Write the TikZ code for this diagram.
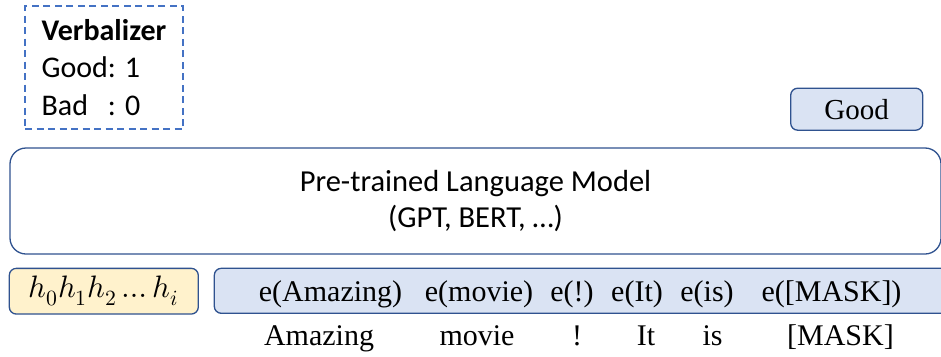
\documentclass[tikz,border=0pt]{standalone}
\usepackage{fontspec}
\usepackage{unicode-math}
\setmainfont{Liberation Serif}
\setmathfont{Latin Modern Math}
\newfontfamily\calibri{Carlito}
\definecolor{edgeblue}{HTML}{2F528F}
\definecolor{dashblue}{HTML}{4472C4}
\definecolor{lightblue}{HTML}{DAE3F3}
\definecolor{lightyellow}{HTML}{FFF2CC}
\begin{document}
\begin{tikzpicture}[x=1pt,y=-1pt,
  box/.style={draw=edgeblue,line width=1.3pt,rounded corners=7pt,inner sep=0pt},
  verbbox/.style={draw=dashblue,line width=2pt,dash pattern=on 7pt off 4.5pt,inner sep=0pt,
    minimum width=158pt,minimum height=123pt,align=left},
  tok/.style={anchor=base,inner sep=0pt,font=\fontsize{30}{36}\selectfont}]
\useasboundingbox (0,0) rectangle (941,356);
\node [verbbox,font=\calibri\fontsize{30}{37.5}\selectfont] (verb) at (104,67.5)
  {\textbf{Verbalizer}\\Good: 1\\\rlap{Bad}\phantom{Good}: 0};
\node [box,fill=lightblue,minimum width=132pt,minimum height=42pt,font=\fontsize{29}{34}\selectfont] (good) at (856.7,109.2) {Good};
\node [box,rounded corners=16pt,minimum width=931pt,minimum height=106pt,align=center,font=\calibri\fontsize{30.5}{36.6}\selectfont] (plm) at (475.5,201) {Pre-trained Language Model\\(GPT, BERT, \dots)};
\node [box,fill=lightyellow,minimum width=189pt,minimum height=45.7pt,font=\fontsize{31}{36}\selectfont] (hid) at (103.8,291.2) {$h_0h_1h_2\dots h_i$};
\node [box,fill=lightblue,minimum width=741pt,minimum height=45pt] (emb) at (584.8,290.8) {};
\node [tok] (e1) at (330.5,301.7) {e(Amazing)};
\node [tok] (e2) at (479,301.7) {e(movie)};
\node [tok] (e3) at (572,301.7) {e(!)};
\node [tok] (e4) at (637,301.7) {e(It)};
\node [tok] (e5) at (707,301.7) {e(is)};
\node [tok] (e6) at (831.5,301.7) {e([MASK])};
\node [tok] (w1) at (319,345) {Amazing};
\node [tok] (w2) at (477,345) {movie};
\node [tok] (w3) at (577,345) {!};
\node [tok] (w4) at (646,345) {It};
\node [tok] (w5) at (712.5,345) {is};
\node [tok] (w6) at (840.5,345) {[MASK]};
\end{tikzpicture}
\end{document}
